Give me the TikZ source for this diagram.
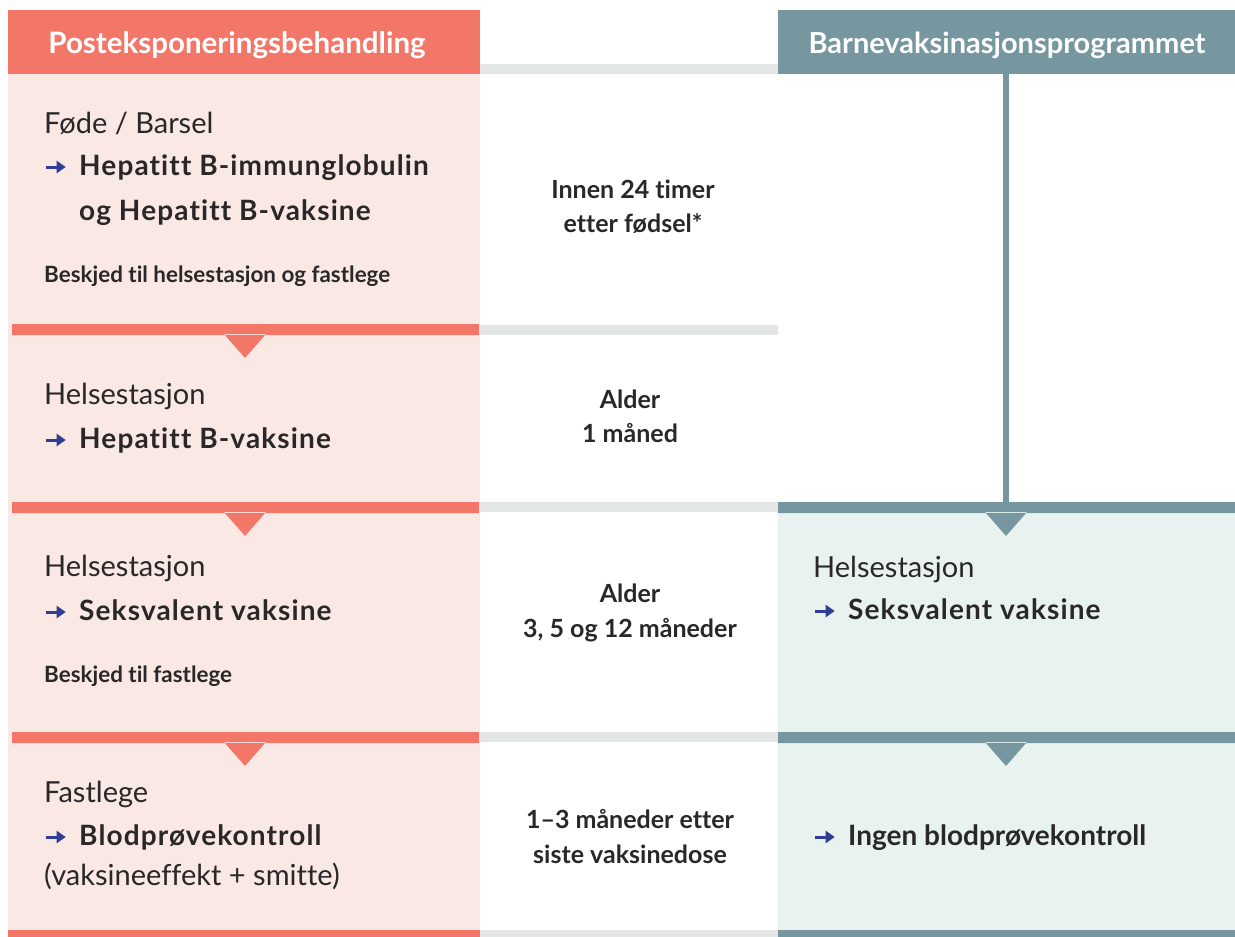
\documentclass[tikz,border=0pt]{standalone}
\usepackage{fontspec}
\setmainfont{Lato}[Ligatures=NoCommon]
\usetikzlibrary{positioning,arrows.meta}

\definecolor{laks}{HTML}{F37769}
\definecolor{lakslys}{HTML}{F9E8E4}
\definecolor{blaagraa}{HTML}{76979F}
\definecolor{blaagraalys}{HTML}{E8F3F0}
\definecolor{strek}{HTML}{E4E6E5}
\definecolor{pilblaa}{HTML}{2F3E93}
\definecolor{blekk}{HTML}{2A2728}

\newcommand{\pil}{\makebox[35pt][l]{\tikz[baseline=0pt]\draw[pilblaa,line width=3pt,-{Triangle[length=9pt,width=12pt]}] (-1pt,8pt) -- (19pt,8pt);}}

\begin{document}
\begin{tikzpicture}[x=1pt,y=-1pt]
        \tikzstyle{sted}=[anchor=base west,inner sep=0pt,text=blekk,font=\fontsize{29}{33}\selectfont]
        \tikzstyle{tiltak}=[sted,font=\fontsize{28}{32}\selectfont\bfseries\addfontfeature{LetterSpace=4}]
        \tikzstyle{beskjed}=[sted,font=\fontsize{22.4}{26}\selectfont\bfseries]
        \tikzstyle{tid}=[anchor=base,inner sep=0pt,text=blekk,font=\fontsize{25}{29}\selectfont\bfseries]
        \tikzstyle{overskrift}=[anchor=base,inner sep=0pt,text=white,font=\fontsize{29.5}{33}\selectfont\bfseries]

        \useasboundingbox (0,0) rectangle (1235,937);
        \fill[white] (0,0) rectangle (1235,937);
        \fill[lakslys] (8,74) rectangle (480,937);            %venstre felt
        \fill[blaagraalys] (778,512) rectangle (1235,937);    %hoyre felt
        \fill[laks] (8,10) rectangle (480,74);
        \fill[blaagraa] (778,10) rectangle (1235,74);
        \fill[blaagraa] (1003,74) rectangle (1009,503);       %loddrett strek

        % skillestreker
        \foreach \y in {64,325,502,732,930}
            \fill[strek] (480,\y) rectangle (778,\y+10);
        \foreach \y in {324,502,732}
            \fill[laks] (12,\y) rectangle (479,\y+11) (224,\y+10) -- (266,\y+10) -- (245,\y+34) -- cycle;
        \foreach \y in {502,732}
            \fill[blaagraa] (778,\y) rectangle (1235,\y+11) (985,\y+10) -- (1027,\y+10) -- (1006,\y+34) -- cycle;
        \fill[laks] (8,930) rectangle (480,937);
        \fill[blaagraa] (778,930) rectangle (1235,937);

        \node[overskrift] (hodeV) at (237,53) {Posteksponeringsbehandling};
        \node[overskrift,font=\fontsize{29}{33}\selectfont\bfseries] (hodeH) at (1007,53) {Barnevaksinasjonsprogrammet};

        \node[sted] (fode) at (44,133) {Føde / Barsel};
        \node[tiltak] (hbig) at (44,175) {\pil Hepatitt B-immunglobulin};
        \node[tiltak] (hbig2) at (79,220) {og Hepatitt B-vaksine};
        \node[beskjed] (besk1) at (44,282) {Beskjed til helsestasjon og fastlege};
        \node[tid] (tid1a) at (633,198) {Innen 24 timer};
        \node[tid] (tid1b) at (633,232) {etter fødsel*};

        \node[sted] (hs1) at (44,404) {Helsestasjon};
        \node[tiltak] (hbv) at (44,448) {\pil Hepatitt B-vaksine};
        \node[tid] (tid2a) at (630,408) {Alder};
        \node[tid] (tid2b) at (630,442) {1 måned};

        \node[sted] (hs2) at (44,576) {Helsestasjon};
        \node[tiltak] (seks) at (44,620) {\pil Seksvalent vaksine};
        \node[beskjed] (besk2) at (44,682) {Beskjed til fastlege};
        \node[tid] (tid3a) at (630,602) {Alder};
        \node[tid] (tid3b) at (630,637) {3, 5 og 12 måneder};
        \node[sted] (hs3) at (813,577) {Helsestasjon};
        \node[tiltak] (seks2) at (813,619) {\pil Seksvalent vaksine};

        \node[sted] (fast) at (44,802) {Fastlege};
        \node[tiltak] (blod) at (44,845) {\pil Blodprøvekontroll};
        \node[sted] (effekt) at (44,885) {(vaksineeffekt + smitte)};
        \node[tid] (tid4a) at (630,828) {1–3 måneder etter};
        \node[tid] (tid4b) at (630,863) {siste vaksinedose};
        \node[tiltak,font=\fontsize{28}{32}\selectfont\bfseries] (ingen) at (813,845) {\pil Ingen blodprøvekontroll};
\end{tikzpicture}
\end{document}
